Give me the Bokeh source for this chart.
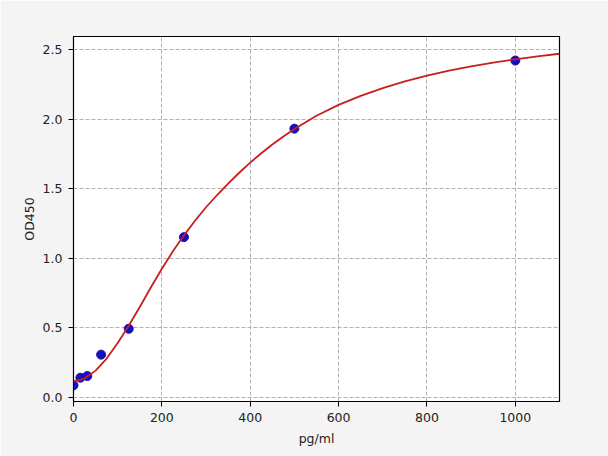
from bokeh.plotting import figure
from bokeh.models import Range1d, FixedTicker, NumeralTickFormatter
from bokeh.embed import file_html
from bokeh.resources import INLINE

# Standard points
conc = [0, 15.6, 31.25, 62.5, 125, 250, 500, 1000]
od450 = [0.086, 0.141, 0.153, 0.307, 0.493, 1.152, 1.932, 2.422]

# Fitted curve
curve_x = [0, 25, 50, 75, 100, 125, 150, 175, 200, 225, 250, 275, 300, 325,
           350, 375, 400, 425, 450, 475, 500, 550, 600, 650, 700, 750, 800,
           850, 900, 950, 1000, 1050, 1100]
curve_y = [0.115, 0.135, 0.192, 0.279, 0.390, 0.515, 0.650, 0.790, 0.925, 1.050,
           1.165, 1.270, 1.367, 1.455, 1.537, 1.615, 1.688, 1.755, 1.818, 1.876,
           1.930, 2.025, 2.103, 2.168, 2.224, 2.272, 2.313, 2.349, 2.380, 2.407,
           2.431, 2.452, 2.471]

p = figure(width=608, height=456,
           x_range=Range1d(0, 1100), y_range=Range1d(-0.03, 2.595),
           x_axis_label="pg/ml", y_axis_label="OD450",
           output_backend="svg", toolbar_location=None,
           background_fill_color="white", border_fill_color="#f4f4f4",
           min_border_left=73, min_border_right=49,
           min_border_top=36, min_border_bottom=55)

p.outline_line_color = "black"
p.outline_line_width = 1.2

# grid
p.grid.grid_line_color = "#b0b0b0"
p.grid.grid_line_dash = "4 2"
p.grid.grid_line_width = 1

# axes
p.xaxis.ticker = FixedTicker(ticks=[0, 200, 400, 600, 800, 1000])
p.yaxis.ticker = FixedTicker(ticks=[0, 0.5, 1.0, 1.5, 2.0, 2.5])
p.yaxis.formatter = NumeralTickFormatter(format="0.0")
for ax in (p.xaxis, p.yaxis):
    ax.minor_tick_line_color = None
    ax.major_tick_out = 5
    ax.major_tick_in = 0
    ax.axis_line_color = "black"
    ax.major_label_text_font = "DejaVu Sans"
    ax.major_label_text_font_size = "12.5px"
    ax.major_label_text_color = "#222222"
    ax.major_label_standoff = 6
    ax.axis_label_text_font = "DejaVu Sans"
    ax.axis_label_text_font_size = "12.5px"
    ax.axis_label_text_font_style = "normal"
    ax.axis_label_text_color = "#222222"
p.xaxis.axis_label_standoff = 6
p.yaxis.axis_label_standoff = 3

p.scatter(conc, od450, size=9, fill_color="#1010c8", line_color="#2a0a9a")
p.line(curve_x, curve_y, line_color="#c81e1e", line_width=1.8)

open("out.html", "w").write(file_html(p, INLINE))
